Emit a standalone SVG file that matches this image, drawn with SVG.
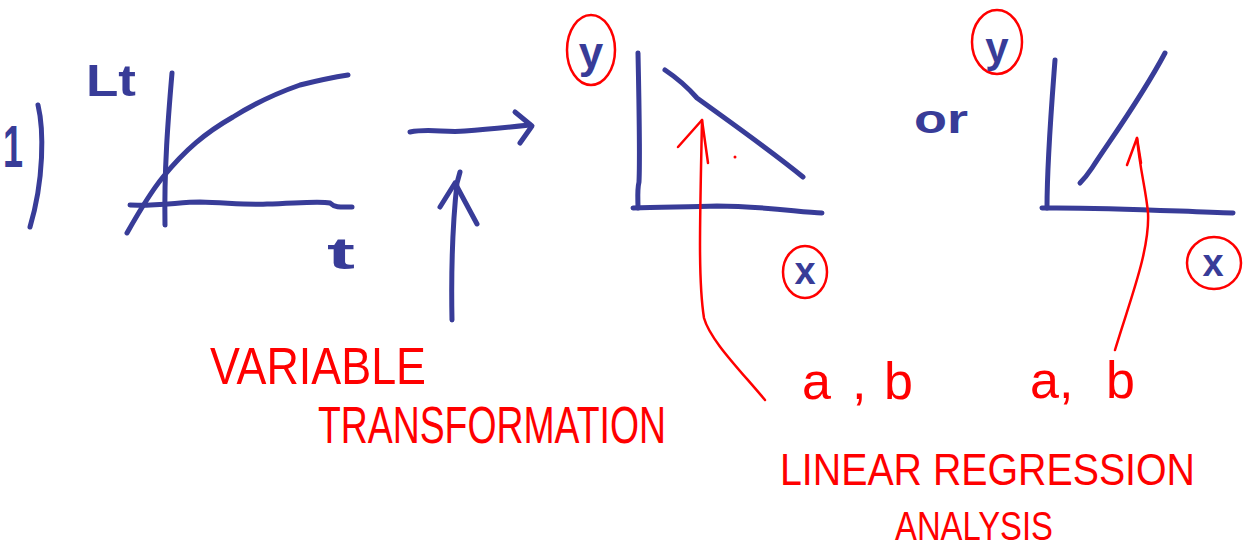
<svg xmlns="http://www.w3.org/2000/svg" width="1246" height="552" viewBox="0 0 1246 552">
<style>
.b{fill:none;stroke:#383c98;stroke-width:5;stroke-linecap:round;stroke-linejoin:round}
.r{fill:none;stroke:#ff0000;stroke-width:2.5;stroke-linecap:round;stroke-linejoin:round}
.bt{fill:#383c98;font-family:"Liberation Sans",Arial,sans-serif;font-weight:bold}
.rt{fill:#ff0000;font-family:"Liberation Sans",Arial,sans-serif}
</style>
<rect width="1246" height="552" fill="#ffffff"/>
<g id="label-1">
<text class="bt" x="3" y="167" font-size="60" textLength="20" lengthAdjust="spacingAndGlyphs">1</text>
<path class="b" d="M38,105 C44,130 44,180 30,227"/>
</g>
<g id="plot-original">
<text class="bt" x="86" y="96" font-size="44" textLength="50" lengthAdjust="spacingAndGlyphs">Lt</text>
<path class="b" d="M172,73 C168,120 164,170 165,225"/>
<path class="b" d="M130,205 C160,206 180,202 200,202 C230,203 250,205 267,204 C300,203 320,201 330,203 C335,208 342,207 352,207"/>
<path class="b" d="M127,233 C140,210 150,193 163,177 C185,150 205,133 233,117 C260,100 280,92 300,85 C320,80 335,77 348,75"/>
<text class="bt" x="327" y="269" font-size="44" textLength="28" lengthAdjust="spacingAndGlyphs">t</text>
</g>
<g id="plot-negative">
<ellipse class="r" cx="591" cy="50" rx="24" ry="35"/>
<text class="bt" x="591" y="68" font-size="44" text-anchor="middle">y</text>
<path class="b" d="M638,53 C639,100 640,160 639,182 C637,190 638,200 638,208"/>
<path class="b" d="M633,208 C660,207 690,207 717,206 C760,206 800,212 822,213"/>
<path class="b" d="M665,70 C680,80 690,90 697,98 C730,122 770,150 803,177"/>
<ellipse class="r" cx="805" cy="272" rx="22" ry="26"/>
<text class="bt" x="805" y="284" font-size="38" text-anchor="middle">x</text>
<circle cx="735" cy="157" r="1.5" fill="#ff0000"/>
</g>
<g id="plot-positive">
<text class="bt" x="914" y="133" font-size="40" textLength="54" lengthAdjust="spacingAndGlyphs">or</text>
<ellipse class="r" cx="997" cy="42" rx="25" ry="32"/>
<text class="bt" x="997" y="62" font-size="42" text-anchor="middle">y</text>
<path class="b" d="M1055,60 C1052,100 1047,160 1047,208"/>
<path class="b" d="M1042,208 C1100,207 1170,211 1233,213"/>
<path class="b" d="M1165,53 C1140,100 1110,140 1092,168 C1088,174 1083,180 1080,183"/>
<ellipse class="r" cx="1214" cy="263" rx="27" ry="26"/>
<text class="bt" x="1213" y="276" font-size="38" text-anchor="middle">x</text>
</g>
<g id="label-transform">
<text class="rt" x="210" y="384" font-size="52" textLength="216" lengthAdjust="spacingAndGlyphs">VARIABLE</text>
<text class="rt" x="318" y="443" font-size="52" textLength="348" lengthAdjust="spacingAndGlyphs">TRANSFORMATION</text>
</g>
<g id="label-ab-1">
<text class="rt" x="802" y="399" font-size="52">a</text>
<text class="rt" x="852" y="399" font-size="52">,</text>
<text class="rt" x="884" y="399" font-size="52">b</text>
</g>
<g id="label-ab-2">
<text class="rt" x="1030" y="398" font-size="52">a,</text>
<text class="rt" x="1106" y="398" font-size="52">b</text>
</g>
<g id="label-regression">
<text class="rt" x="780" y="485" font-size="44" textLength="415" lengthAdjust="spacingAndGlyphs">LINEAR REGRESSION</text>
<text class="rt" x="895" y="540" font-size="40" textLength="158" lengthAdjust="spacingAndGlyphs">ANALYSIS</text>
</g>
<g id="connectors">
<path class="b" d="M410,132 C430,128 445,133 465,131 C490,129 510,127 530,125"/>
<path class="b" d="M515,112 L532,126 L520,143"/>
<path class="b" d="M452,320 C451,270 453,220 457,183 L460,172"/>
<path class="b" d="M440,207 L455,183 L477,224"/>
<path class="r" d="M765,400 C740,370 710,340 704,318 C698,280 700,220 702,120"/>
<path class="r" d="M678,147 L702,120 L708,163"/>
<path class="r" d="M1115,350 C1130,300 1150,250 1148,213 C1146,190 1140,170 1137,138"/>
<path class="r" d="M1127,165 L1137,138 L1141,163"/>
</g>
</svg>
